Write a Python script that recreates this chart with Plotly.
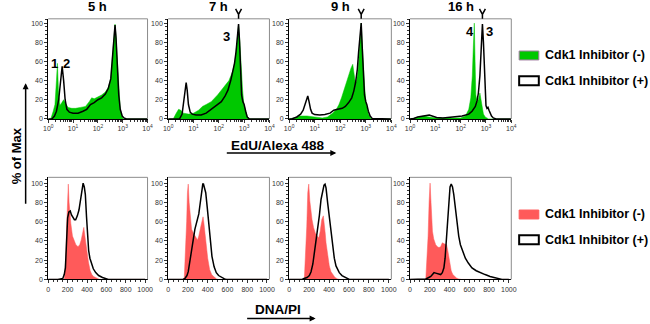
import plotly.graph_objects as go

W, H = 650, 324

# ---------------- data ----------------
times = ["5 h", "7 h", "9 h", "16 h"]
y_ticks = [0, 20, 40, 60, 80, 100]
edu_tickvals = [1, 10, 100, 1000, 10000]
edu_ticktext = ["10<sup>0</sup>", "10<sup>1</sup>", "10<sup>2</sup>", "10<sup>3</sup>", "10<sup>4</sup>"]
pi_ticks = [0, 200, 400, 600, 800, 1000]
legend_labels = ["Cdk1 Inhibitor (-)", "Cdk1 Inhibitor (+)"]

# EdU/Alexa 488 (x in log10 units), % of max
edu_5h_neg_x = [0.0, 0.1, 0.2, 0.27, 0.33, 0.37, 0.41, 0.47, 0.55, 0.62, 0.7, 0.8, 0.95, 1.1, 1.3, 1.5, 1.65, 1.75, 1.85, 2.0, 2.15, 2.3, 2.42, 2.52, 2.6, 2.65, 2.69, 2.73, 2.78, 2.84, 2.9, 2.96, 3.02, 4.0]
edu_5h_neg_y = [0, 0, 8, 15, 40, 58, 30, 14, 17, 20, 16, 12, 11, 11, 12, 13, 18, 22, 21, 23, 25, 28, 33, 42, 65, 85, 99, 85, 60, 30, 10, 3, 0, 0]
edu_5h_pos_x = [0.0, 0.15, 0.25, 0.33, 0.42, 0.5, 0.56, 0.62, 0.68, 0.75, 0.85, 1.0, 1.2, 1.4, 1.55, 1.7, 1.85, 2.0, 2.15, 2.3, 2.42, 2.52, 2.6, 2.65, 2.69, 2.73, 2.78, 2.84, 2.9, 2.98, 3.05, 3.15, 4.0]
edu_5h_pos_y = [0, 0, 3, 8, 20, 45, 55, 40, 20, 10, 7, 6, 6, 8, 10, 15, 17, 20, 22, 26, 32, 42, 65, 88, 98, 85, 55, 25, 10, 3, 1, 0, 0]

edu_7h_neg_x = [0, 0.2, 0.3, 0.41, 0.5, 0.6, 0.8, 1.0, 1.2, 1.35, 1.5, 1.7, 1.95, 2.2, 2.4, 2.55, 2.65, 2.72, 2.78, 2.83, 2.88, 2.94, 2.99, 3.05, 3.12, 3.2, 4]
edu_7h_neg_y = [0, 0, 5, 10, 9, 6, 5, 6, 9, 13, 15, 18, 25, 33, 40, 50, 62, 80, 98, 80, 55, 30, 15, 8, 3, 0, 0]
edu_7h_pos_x = [0, 0.45, 0.55, 0.62, 0.67, 0.71, 0.75, 0.8, 0.87, 0.95, 1.1, 1.3, 1.5, 1.7, 1.9, 2.1, 2.25, 2.36, 2.47, 2.55, 2.62, 2.68, 2.74, 2.78, 2.82, 2.86, 2.9, 2.95, 3.0, 3.06, 3.12, 3.2, 4]
edu_7h_pos_y = [0, 0, 5, 18, 32, 38, 30, 15, 7, 5, 4, 4, 6, 10, 14, 18, 24, 30, 40, 48, 58, 70, 88, 99, 80, 45, 25, 18, 15, 8, 2, 0, 0]

edu_9h_neg_x = [0, 0.2, 0.4, 0.7, 1.0, 1.3, 1.5, 1.7, 1.85, 1.95, 2.05, 2.14, 2.25, 2.33, 2.42, 2.49, 2.54, 2.6, 2.65, 2.7, 2.75, 2.8, 2.82, 2.86, 2.9, 2.95, 3.0, 3.05, 3.1, 3.18, 3.25, 4]
edu_9h_neg_y = [0, 1, 3, 3, 2, 1, 2, 6, 10, 15, 22, 30, 40, 46, 53, 57, 48, 36, 42, 51, 70, 95, 100, 80, 57, 35, 18, 10, 5, 1, 0, 0]
edu_9h_pos_x = [0, 0.1, 0.3, 0.45, 0.55, 0.62, 0.68, 0.73, 0.78, 0.84, 0.9, 1.0, 1.2, 1.4, 1.6, 1.75, 1.9, 2.08, 2.2, 2.33, 2.45, 2.53, 2.6, 2.67, 2.72, 2.77, 2.82, 2.86, 2.9, 2.95, 3.0, 3.04, 3.1, 3.17, 3.25, 4]
edu_9h_pos_y = [0, 0, 2, 5, 9, 16, 22, 24, 18, 10, 6, 4.5, 4, 4.5, 6, 9, 10, 11, 13, 17, 22, 29, 38, 52, 70, 90, 100, 75, 45, 25, 18, 15, 8, 3, 0.5, 0]

edu_16h_neg_x = [0, 0.2, 0.35, 0.55, 0.75, 1.0, 1.5, 2.0, 2.19, 2.32, 2.4, 2.46, 2.5, 2.54, 2.57, 2.6, 2.65, 2.7, 2.76, 2.8, 2.85, 2.9, 2.97, 3.05, 3.1, 4]
edu_16h_neg_y = [0, 1, 2.5, 3, 2, 1, 1, 1, 3, 10, 22, 45, 75, 100, 60, 25, 18, 20, 27, 20, 10, 5, 2, 0.5, 0, 0]
edu_16h_pos_x = [0, 0.15, 0.3, 0.5, 0.65, 0.76, 0.9, 1.05, 1.3, 1.6, 1.8, 2.06, 2.32, 2.45, 2.58, 2.65, 2.7, 2.76, 2.81, 2.86, 2.9, 2.94, 2.97, 3.0, 3.04, 3.08, 3.12, 3.16, 3.22, 3.29, 3.4, 4]
edu_16h_pos_y = [0, 0.5, 2, 2.5, 3.5, 4, 3, 1.5, 1, 1.5, 2, 3, 5, 8, 13, 19, 27, 45, 72, 99, 80, 55, 30, 14, 11, 12, 9, 6, 3, 1, 0, 0]

# DNA/PI (linear), % of max
pi_5h_neg_x = [0, 150, 167, 180, 192, 200, 207, 215, 225, 233, 250, 267, 285, 307, 325, 340, 355, 367, 378, 390, 400, 415, 433, 450, 467, 500, 530, 1000]
pi_5h_neg_y = [0, 0, 1, 20, 60, 85, 99, 80, 65, 58, 45, 40, 36, 34, 36, 41, 50, 54, 45, 35, 28, 18, 9, 5, 3, 1, 0, 0]
pi_5h_pos_x = [0, 100, 150, 165, 177, 188, 200, 213, 227, 240, 255, 270, 283, 300, 317, 330, 340, 352, 360, 372, 383, 395, 405, 417, 430, 445, 465, 490, 520, 560, 600, 620, 1000]
pi_5h_pos_y = [0, 0, 1, 5, 12, 40, 64, 70, 71, 67, 64, 62, 62, 66, 72, 82, 90, 97, 100, 96, 88, 65, 45, 30, 22, 16, 11, 7, 4, 2, 0.5, 0, 0]

pi_7h_neg_x = [0, 150, 163, 175, 187, 195, 203, 212, 225, 237, 255, 270, 285, 297, 310, 330, 343, 353, 362, 375, 387, 400, 420, 440, 460, 490, 510, 1000]
pi_7h_neg_y = [0, 0, 2, 25, 60, 90, 99, 80, 62, 52, 48, 46, 43, 41, 45, 55, 62, 65, 58, 45, 34, 22, 10, 5, 3, 0.5, 0, 0]
pi_7h_pos_x = [0, 150, 170, 190, 203, 220, 237, 255, 270, 285, 297, 310, 320, 333, 343, 350, 357, 367, 380, 395, 410, 425, 443, 465, 487, 510, 537, 570, 590, 1000]
pi_7h_pos_y = [0, 0, 1, 4, 8, 18, 28, 42, 52, 58, 62, 68, 76, 88, 97, 99, 99, 95, 90, 75, 59, 42, 24, 13, 7, 4, 2, 0.5, 0, 0]

pi_9h_neg_x = [0, 140, 153, 165, 177, 187, 197, 207, 218, 230, 245, 263, 280, 297, 312, 327, 343, 353, 362, 370, 385, 403, 420, 437, 460, 487, 510, 1000]
pi_9h_neg_y = [0, 0, 1, 25, 55, 90, 99, 82, 70, 62, 54, 48, 45, 43, 50, 62, 66, 58, 48, 38, 25, 14, 8, 5, 2, 0.5, 0, 0]
pi_9h_pos_x = [0, 130, 150, 180, 203, 220, 238, 253, 270, 287, 303, 320, 335, 350, 360, 370, 387, 403, 420, 437, 453, 470, 503, 530, 553, 580, 603, 1000]
pi_9h_pos_y = [0, 0, 1, 2, 4, 8, 16, 28, 38, 50, 66, 83, 93, 98, 99, 95, 79, 64, 48, 34, 22, 14, 7, 4, 3, 1, 0, 0]

pi_16h_neg_x = [0, 150, 160, 172, 183, 193, 203, 210, 218, 227, 240, 260, 277, 293, 310, 327, 345, 360, 370, 382, 393, 405, 417, 433, 450, 470, 493, 520, 1000]
pi_16h_neg_y = [0, 0, 1, 20, 45, 80, 100, 85, 65, 50, 42, 36, 34, 33, 34, 38, 37, 36, 36, 30, 22, 14, 9, 5, 3, 1.5, 0.5, 0, 0]
pi_16h_pos_x = [0, 130, 160, 190, 210, 227, 243, 260, 277, 293, 310, 327, 343, 355, 363, 370, 380, 393, 405, 417, 430, 443, 460, 477, 493, 510, 535, 560, 590, 627, 670, 710, 760, 810, 850, 877, 910, 930, 1000]
pi_16h_pos_y = [0, 0, 0.5, 2, 3, 5, 7, 6.5, 6, 5, 5, 7, 12, 22, 35, 45, 62, 84, 96, 99, 96, 88, 72, 57, 45, 36, 28, 22, 17, 12, 9, 7, 5, 3, 2, 1, 0.3, 0, 0]

# panel annotations: (panel index, label, x log10 value, y value)
peak_labels = [(0, "1", 0.27, 58), (0, "2", 0.72, 58), (1, "3", 2.3, 86), (3, "4", 2.35, 91), (3, "3", 3.15, 91)]

edu_sets = [
    (edu_5h_neg_x, edu_5h_neg_y, edu_5h_pos_x, edu_5h_pos_y),
    (edu_7h_neg_x, edu_7h_neg_y, edu_7h_pos_x, edu_7h_pos_y),
    (edu_9h_neg_x, edu_9h_neg_y, edu_9h_pos_x, edu_9h_pos_y),
    (edu_16h_neg_x, edu_16h_neg_y, edu_16h_pos_x, edu_16h_pos_y),
]
pi_sets = [
    (pi_5h_neg_x, pi_5h_neg_y, pi_5h_pos_x, pi_5h_pos_y),
    (pi_7h_neg_x, pi_7h_neg_y, pi_7h_pos_x, pi_7h_pos_y),
    (pi_9h_neg_x, pi_9h_neg_y, pi_9h_pos_x, pi_9h_pos_y),
    (pi_16h_neg_x, pi_16h_neg_y, pi_16h_pos_x, pi_16h_pos_y),
]

# ---------------- styling / layout ----------------
GREEN = "#00c800"
RED = "#ff5a5a"
FONT = "Liberation Sans, Arial, sans-serif"
TICKFONT = dict(family=FONT, size=7, color="#333")

col_px = [(44, 145), (166, 269), (289, 393), (412, 515)]
top_py = (19, 120)
bot_py = (179, 282)
EDU_RANGE = [0, 4]
TOP_YR = [0, 104.5]
BOT_YR = [0, 106]
PI_RANGE = [0, 1025]


def px(x):
    return x / W


def py(y):
    return 1 - y / H


fig = go.Figure()
layout = dict(width=W, height=H, margin=dict(l=0, r=0, t=0, b=0),
              paper_bgcolor="white", plot_bgcolor="white", showlegend=False,
              font=dict(family=FONT, color="black"))
shapes = []
annotations = []

for row in range(2):
    for c in range(4):
        n = row * 4 + c + 1
        xa = "x" if n == 1 else f"x{n}"
        ya = "y" if n == 1 else f"y{n}"
        xkey = "xaxis" if n == 1 else f"xaxis{n}"
        ykey = "yaxis" if n == 1 else f"yaxis{n}"
        x0, x1 = col_px[c]
        r0, r1 = top_py if row == 0 else bot_py
        if row == 0:
            nx, ny, qx, qy = edu_sets[c]
            fig.add_trace(go.Scatter(x=[10 ** v for v in nx], y=ny, xaxis=xa, yaxis=ya, mode="lines",
                                     fill="tozeroy", fillcolor=GREEN, line=dict(color=GREEN, width=0.5),
                                     hoverinfo="skip"))
            fig.add_trace(go.Scatter(x=[10 ** v for v in qx], y=qy, xaxis=xa, yaxis=ya, mode="lines",
                                     line=dict(color="black", width=1.5), hoverinfo="skip"))
            layout[xkey] = dict(domain=[px(x0), px(x1)], anchor=ya, type="log", range=EDU_RANGE,
                                tickmode="array", tickvals=edu_tickvals, ticktext=edu_ticktext,
                                ticks="outside", ticklen=3, tickcolor="#333", tickfont=TICKFONT,
                                showline=True, linecolor="black", linewidth=1, showgrid=False, zeroline=False,
                                minor=dict(ticks="outside", ticklen=2, tickcolor="#333", dtick="D1", showgrid=False))
            yr = TOP_YR
        else:
            nx, ny, qx, qy = pi_sets[c]
            fig.add_trace(go.Scatter(x=nx, y=ny, xaxis=xa, yaxis=ya, mode="lines",
                                     fill="tozeroy", fillcolor=RED, line=dict(color=RED, width=0.5),
                                     hoverinfo="skip"))
            fig.add_trace(go.Scatter(x=qx, y=qy, xaxis=xa, yaxis=ya, mode="lines",
                                     line=dict(color="black", width=1.5), hoverinfo="skip"))
            layout[xkey] = dict(domain=[px(x0), px(x1)], anchor=ya, range=PI_RANGE,
                                tickmode="array", tickvals=pi_ticks,
                                ticks="outside", ticklen=3, tickcolor="#333", tickfont=TICKFONT,
                                showline=True, linecolor="black", linewidth=1, showgrid=False, zeroline=False,
                                minor=dict(ticks="outside", ticklen=2, tickcolor="#333", dtick=50, showgrid=False))
            yr = BOT_YR
        layout[ykey] = dict(domain=[py(r1), py(r0)], anchor=xa, range=yr,
                            tickmode="array", tickvals=y_ticks,
                            ticks="outside", ticklen=3, tickcolor="#333", tickfont=TICKFONT,
                            showline=True, linecolor="black", linewidth=1, showgrid=False, zeroline=False,
                            minor=dict(ticks="outside", ticklen=2, tickcolor="#333", dtick=4, showgrid=False))
        # grey frame top & right
        shapes.append(dict(type="line", xref=f"{xa} domain", yref=f"{ya} domain", x0=0, x1=1, y0=1, y1=1,
                           line=dict(color="#8c8c8c", width=1)))
        shapes.append(dict(type="line", xref=f"{xa} domain", yref=f"{ya} domain", x0=1, x1=1, y0=0, y1=1,
                           line=dict(color="#8c8c8c", width=1)))

# time titles
for c, t in enumerate(times):
    x0, x1 = col_px[c]
    annotations.append(dict(text=f"<b>{t}</b>", x=px((x0 + x1) / 2), y=py(7), xref="paper", yref="paper",
                            showarrow=False, font=dict(size=13), xanchor="center", yanchor="middle"))

# "Y" peak markers above panels 2-4 (at the peak of the inhibitor(+) curve)
for c in range(1, 4):
    nx, ny, qx, qy = edu_sets[c]
    lpk = qx[qy.index(max(qy))]
    x0, x1 = col_px[c]
    xp = x0 + (lpk - EDU_RANGE[0]) / (EDU_RANGE[1] - EDU_RANGE[0]) * (x1 - x0)
    path = (f"M {px(xp - 3)},{py(9)} L {px(xp)},{py(14.5)} L {px(xp + 3)},{py(9)} "
            f"M {px(xp)},{py(14.5)} L {px(xp)},{py(19)}")
    shapes.append(dict(type="path", xref="paper", yref="paper", path=path, line=dict(color="black", width=1.5)))

# peak number labels
for c, lab, lx, ly in peak_labels:
    n = c + 1
    xa = "x" if n == 1 else f"x{n}"
    ya = "y" if n == 1 else f"y{n}"
    annotations.append(dict(text=f"<b>{lab}</b>", x=lx, y=ly, xref=xa, yref=ya, showarrow=False,
                            font=dict(size=13), xanchor="center", yanchor="middle"))

# axis titles + arrows
annotations.append(dict(text="<b>EdU/Alexa 488</b>", x=px(278), y=py(146.5), xref="paper", yref="paper",
                        showarrow=False, font=dict(size=13.5), xanchor="center", yanchor="middle"))
annotations.append(dict(text="", x=px(337), y=py(154.5), xref="paper", yref="paper", showarrow=True,
                        ax=-111, ay=0, arrowhead=2, arrowsize=0.8, arrowwidth=1.5, arrowcolor="black"))
annotations.append(dict(text="<b>DNA/PI</b>", x=px(278), y=py(312), xref="paper", yref="paper",
                        showarrow=False, font=dict(size=13.5), xanchor="center", yanchor="middle"))
annotations.append(dict(text="", x=px(316), y=py(321.5), xref="paper", yref="paper", showarrow=True,
                        ax=-70, ay=0, arrowhead=2, arrowsize=0.8, arrowwidth=1.5, arrowcolor="black"))
annotations.append(dict(text="<b>% of Max</b>", x=px(12), y=py(157), xref="paper", yref="paper",
                        showarrow=False, textangle=-90, font=dict(size=13), xanchor="center", yanchor="middle"))
annotations.append(dict(text="", x=px(21), y=py(84), xref="paper", yref="paper", showarrow=True,
                        ax=0, ay=122, arrowhead=2, arrowsize=0.8, arrowwidth=1.5, arrowcolor="black"))

# legends (drawn)
legend_rows = [
    (GREEN, "#a07aa0", 1, 51.5, 60.5),
    ("white", "black", 2, 77, 86),
    (RED, RED, 1, 212, 221),
    ("white", "black", 2, 237.5, 246.5),
]
for i, (fc, lc, lw, y0, y1) in enumerate(legend_rows):
    shapes.append(dict(type="rect", xref="paper", yref="paper", x0=px(523), x1=px(543), y0=py(y1), y1=py(y0),
                       fillcolor=fc, line=dict(color=lc, width=lw)))
    annotations.append(dict(text=f"<b>{legend_labels[i % 2]}</b>", x=px(547), y=py((y0 + y1) / 2),
                            xref="paper", yref="paper", showarrow=False, xanchor="left", yanchor="middle",
                            font=dict(size=12.5)))

layout["shapes"] = shapes
layout["annotations"] = annotations
fig.update_layout(**layout)
fig.write_html("out.html", config={"displayModeBar": False},
               post_script="document.body.style.margin='0';document.body.style.overflow='hidden';")
